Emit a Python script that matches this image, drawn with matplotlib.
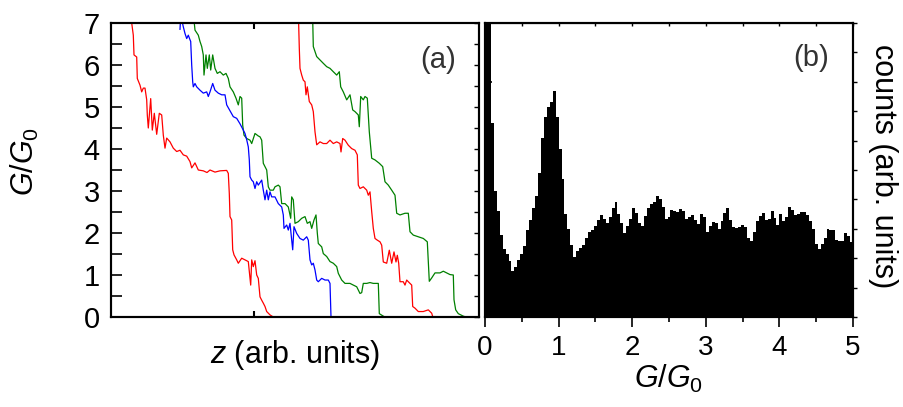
import numpy as np
import matplotlib
matplotlib.use("Agg")
import matplotlib.pyplot as plt

plt.rcParams['font.family'] = ['Liberation Sans', 'DejaVu Sans']
plt.rcParams['mathtext.fontset'] = 'custom'
plt.rcParams['mathtext.rm'] = 'Liberation Sans'
plt.rcParams['mathtext.it'] = 'Liberation Sans:italic'

# ---- (a) conductance traces, z in arbitrary units ----
red1_z = [18.5, 20.7, 22.3, 23, 25.7, 26.3, 29, 30.7, 32.3, 34, 35.7, 36.3, 37.3, 39.7, 41.3, 43.3,
          45.7, 48.3, 50.7, 52.3, 54, 55.7, 59, 62.3, 65.7, 69, 72.3, 75.7, 79, 80.7, 84, 87.3,
          92.3, 96, 99, 104, 109, 115.7, 117.3, 118.3, 119, 120.7, 121.7, 123, 125.7, 127.3,
          130.7, 134, 137.3, 139.7, 140.7, 142.3, 144, 145.7, 147.3, 149, 150.7, 152.3, 154,
          155.7, 159, 162.3, 368]
red1_g = [7.3, 7.0, 6.71, 6.24, 6.19, 5.68, 5.52, 5.36, 5.45, 5.45, 5.17, 4.81, 4.5, 5.2, 4.45, 4.85,
          4.35, 4.85, 4.81, 4.33, 4.02, 4.26, 4.17, 4.02, 3.94, 3.97, 3.86, 3.83, 3.7, 3.55, 3.67, 3.5,
          3.48, 3.44, 3.5, 3.45, 3.48, 3.49, 3.42, 2.94, 2.39, 2.31, 1.6, 1.48, 1.36, 1.28,
          1.4, 1.36, 1.32, 0.76, 1.36, 1.2, 1.34, 1.0, 0.92, 0.48, 0.4, 0.33, 0.25,
          0.13, 0.05, 0.0, 0.0]

blue_z = [69, 70, 71, 72.3, 74, 75.7, 77.3, 79, 79.7, 80.7, 81.7, 82.3, 84, 85.7, 89, 92.3, 95.7,
          97.3, 99, 101.7, 104, 107.3, 110.7, 114, 115.7, 119, 122.3, 125.7, 129, 132.3, 134,
          135.7, 137.3, 138.3, 139, 140.7, 142.3, 144, 145.7, 147.3, 150.7, 152.3, 154, 155.7,
          157.3, 159, 160.7, 164, 167.3, 170.7, 172.3, 173, 175.7, 177.3, 179, 180.7, 181.7, 183,
          185.7, 189, 192.3, 195.7, 197.3, 199, 200.7, 202.3, 204, 205.7, 207.3, 210.7, 214,
          217.3, 219, 220, 368]
blue_g = [6.85, 7.3, 7.05, 6.91, 6.75, 6.63, 6.71, 6.6, 6.56, 6.0, 5.6, 5.48, 5.56, 5.48, 5.4, 5.33, 5.36,
          5.25, 5.36, 5.56, 5.4, 5.33, 5.29, 5.29, 5.05, 4.91, 4.77, 4.73, 4.6, 4.45, 4.37,
          4.22, 4.05, 3.74, 3.34, 3.26, 3.22, 3.06, 3.22, 3.14, 3.26, 3.02, 2.79, 3.02,
          2.79, 2.98, 2.86, 2.86, 2.7, 2.62, 2.43, 2.11, 2.19, 2.07, 2.23, 1.83, 1.6, 2.15,
          1.99, 1.87, 1.83, 1.91, 1.83, 1.36, 1.24, 1.28, 1.12, 0.88, 0.84, 0.92, 0.88,
          0.88, 0.8, 0.0, 0.0]

green1_z = [82, 84, 87.3, 89, 90.7, 92.3, 93, 95, 96.3, 98.3, 99.7, 101.7, 104, 106.3, 109, 112.3,
            115, 117.3, 119, 122.3, 125, 127.3, 129, 130.7, 131.7, 133, 135.7, 139, 140.7, 144,
            147.3, 149, 150.7, 152.3, 154, 155.7, 157.3, 159, 162.3, 164, 167.3, 169, 170.7, 174,
            177.3, 179.7, 180.7, 182.3, 184, 187.3, 190.7, 194, 196.3, 199, 200.7, 203, 205,
            206.3, 207.3, 210.7, 212.3, 215.7, 219, 222.3, 225.7, 227.3, 230.7, 234, 239, 242.3,
            245.7, 249, 250.7, 252.3, 255.7, 259, 262.3, 267.3, 268.3, 272.3, 274, 368]
green1_g = [7.3, 6.83, 6.71, 6.56, 6.44, 6.24, 5.76, 6.24, 5.92, 6.24, 5.88, 6.24, 5.92, 5.8, 5.84, 5.76,
            5.8, 5.68, 5.48, 5.36, 5.21, 5.05, 5.25, 5.21, 4.57, 4.33, 4.25, 4.21, 4.13, 4.37,
            4.31, 4.29, 4.21, 3.66, 3.58, 3.5, 3.1, 3.02, 3.02, 3.1, 3.14, 3.1, 2.7, 2.7,
            2.62, 2.35, 2.86, 2.79, 2.23, 2.27, 2.35, 2.39, 2.23, 2.27, 2.11, 2.31, 2.43,
            2.0, 1.75, 1.67, 1.51, 1.44, 1.32, 1.28, 1.2, 1.04, 0.88, 0.8, 0.8, 0.76,
            0.72, 0.56, 0.58, 0.8, 0.8, 0.82, 0.8, 0.8, 0.08, 0.02, 0.0, 0.0]

red2_z = [187.3, 188.3, 189, 190.7, 192.3, 194, 195, 196.3, 198.3, 200.7, 202.3, 204, 205.7, 209,
          212.3, 215.7, 219, 222.3, 225.7, 229, 230, 231.7, 234, 237.3, 240.7, 244, 246.3, 247.3,
          249, 252.3, 255.7, 257.3, 259, 260.7, 262.3, 264, 266.3, 269, 270.7, 272.3, 275.7,
          278.3, 280.7, 283, 285, 286.3, 287.7, 289, 292.3, 294, 295.7, 297.3, 300.7, 301.7,
          304, 307.3, 312.3, 317.3, 320.7, 321.7, 368]
red2_g = [7.3, 6.4, 5.92, 5.76, 5.64, 5.6, 5.29, 5.48, 5.13, 5.05, 4.89, 4.41, 4.1, 4.17,
          4.13, 4.13, 4.21, 4.13, 4.17, 4.13, 3.93, 4.25, 4.21, 4.09, 4.01, 3.97, 3.86, 3.14,
          3.06, 3.1, 3.02, 2.9, 2.98, 2.51, 2.11, 1.87, 1.83, 1.79, 1.71, 1.31, 1.28,
          1.59, 1.28, 1.55, 1.31, 1.47, 1.28, 0.84, 0.84, 0.76, 0.88, 0.84, 0.76, 0.25,
          0.21, 0.13, 0.13, 0.17, 0.09, 0.01, 0.0]

green2_z = [201.5, 202.3, 205.7, 209, 212.3, 215.7, 219, 222.3, 225.7, 228.3, 229.7, 232.3, 235.7,
            239, 241.7, 244, 247.3, 248.3, 249.7, 252.3, 254, 256.3, 258.3, 260.7, 264, 268.3,
            271.7, 274, 277.3, 280.7, 284, 285.7, 289, 294, 297.3, 299, 302.3, 307.3, 312.3,
            316.3, 318.3, 320.7, 324, 329, 332.3, 339, 342.3, 343, 344.7, 347.3, 352.3, 355, 368]
green2_g = [7.3, 6.44, 6.2, 6.12, 6.04, 5.96, 5.92, 5.84, 5.76, 5.84, 5.48, 5.36, 5.17,
            5.29, 4.93, 4.89, 4.81, 4.53, 5.25, 5.17, 5.25, 5.21, 4.41, 3.78, 3.74, 3.66,
            3.58, 3.22, 3.14, 3.02, 2.9, 2.47, 2.43, 2.47, 2.47, 2.03, 1.95, 1.91, 1.87,
            1.79, 0.85, 0.93, 1.05, 1.05, 1.09, 1.01, 1.0, 0.41, 0.17, 0.08, 0.02, 0.0, 0.0]

# ---- (b) conductance histogram, bins of 0.04 G0 ----
bin_width = 0.04
hist_counts = [12, 10.5, 6.6, 4.3, 3.6, 2.8, 2.3, 2.15, 1.9, 1.55,
               1.7, 1.95, 2.15, 2.4, 2.95, 3.3, 3.7, 4.1, 4.9, 6.1,
               6.8, 7.15, 7.3, 7.7, 6.8, 5.7, 4.7, 3.5, 3.0, 2.45,
               2.05, 2.25, 2.35, 2.45, 2.7, 2.9, 2.95, 3.1, 3.3, 3.47,
               3.35, 3.2, 3.41, 3.7, 3.9, 3.5, 3.2, 2.85, 3.1, 3.35,
               3.7, 3.55, 3.2, 3.1, 3.45, 3.7, 3.85, 3.9, 4.1, 4.0,
               3.75, 3.35, 3.4, 3.64, 3.62, 3.58, 3.68, 3.6, 3.35, 3.4,
               3.47, 3.3, 3.15, 3.5, 3.4, 2.9, 3.1, 3.24, 3.2, 3.0,
               3.25, 3.55, 3.7, 3.3, 3.07, 3.02, 3.07, 3.12, 3.05, 2.7,
               2.6, 2.9, 3.25, 3.45, 3.53, 3.3, 3.32, 3.6, 3.36, 3.13,
               3.5, 3.28, 3.4, 3.75, 3.64, 3.48, 3.52, 3.56, 3.56, 3.48,
               3.25, 2.98, 2.5, 2.3, 2.5, 2.7, 3.0, 2.95, 2.96, 2.62,
               2.6, 2.6, 2.85, 2.75, 2.55]
hist_edges = np.arange(len(hist_counts) + 1) * bin_width

W, H = 904, 407
fig = plt.figure(figsize=(W / 100, H / 100), dpi=100)
ax_a = fig.add_axes([111 / W, (H - 317) / H, 368 / W, 294 / H])
ax_b = fig.add_axes([485 / W, (H - 317) / H, 368 / W, 294 / H])

# panel (a)
ax_a.plot(green1_z, green1_g, color='green', lw=0.9)
ax_a.plot(blue_z, blue_g, color='blue', lw=0.9)
ax_a.plot(green2_z, green2_g, color='green', lw=0.9)
ax_a.plot(red1_z, red1_g, color='red', lw=0.9)
ax_a.plot(red2_z, red2_g, color='red', lw=0.9)
ax_a.set_xlim(0, 368)
ax_a.set_ylim(0, 7)
ax_a.set_xticks([143])
ax_a.set_xticklabels([])
ax_a.set_yticks(np.arange(0, 8, 1))
ax_a.set_yticks(np.arange(0.5, 7, 1), minor=True)
ax_a.tick_params(axis='y', which='both', direction='in', length=8, width=1.2,
                 left=True, right=False, labelsize=21, pad=8)
ax_a.tick_params(axis='x', which='both', direction='in', length=4, width=1.5,
                 top=True, bottom=True)
for s in ax_a.spines.values():
    s.set_linewidth(1.5)
ax_a_r = ax_a.twinx()
ax_a_r.set_ylim(0, 7)
ax_a_r.set_yticks(np.arange(0, 7.5, 0.5))
ax_a_r.tick_params(axis='y', direction='in', length=3.5, width=1.0, labelright=False)
for s in ax_a_r.spines.values():
    s.set_linewidth(1.5)
ax_a.set_ylabel(r'$\mathit{G/G_0}$', fontsize=22)
ax_a.yaxis.set_label_coords(-0.19, 0.53)
ax_a.set_xlabel(r'$\mathit{z}$ (arb. units)', fontsize=22)
ax_a.xaxis.set_label_coords(0.5, -0.07)
ax_a.text(0.89, 0.875, '(a)', transform=ax_a.transAxes, fontsize=21,
          ha='center', va='center', color='#333333')

# panel (b)
ax_b.stairs(hist_counts, hist_edges, fill=True, color='black')
ax_b.set_xlim(0, 5)
ax_b.set_ylim(0, 10)
ax_b.set_xticks(np.arange(0, 6, 1))
ax_b.set_xticks(np.arange(0.5, 5, 1), minor=True)
ax_b.tick_params(axis='x', which='major', direction='out', length=7, width=1.2,
                 labelsize=20, pad=6)
ax_b.tick_params(axis='x', which='minor', direction='out', length=3.5, width=1.2)
ax_b.set_yticks(np.arange(0, 11, 2))
ax_b.set_yticks(np.arange(1, 10, 2), minor=True)
ax_b.tick_params(axis='y', which='major', direction='in', length=5, width=1.2, labelleft=False)
ax_b.tick_params(axis='y', which='minor', direction='in', length=2.5, width=1.0)
for s in ax_b.spines.values():
    s.set_linewidth(1.5)
ax_b_top = ax_b.secondary_xaxis('top')
ax_b_top.set_xticks(np.arange(0, 5.5, 0.5))
ax_b_top.tick_params(direction='in', length=2.5, width=1.0, labeltop=False)
ax_b_r = ax_b.twinx()
ax_b_r.set_ylim(0, 10)
ax_b_r.set_yticks(np.arange(0, 11, 1))
ax_b_r.tick_params(axis='y', direction='out', length=3, width=1.0, labelright=False)
for s in ax_b_r.spines.values():
    s.set_linewidth(1.5)
ax_b.set_xlabel(r'$\mathit{G/G_0}$', fontsize=22)
ax_b.xaxis.set_label_coords(0.5, -0.155)
ax_b.text(0.886, 0.88, '(b)', transform=ax_b.transAxes, fontsize=21,
          ha='center', va='center', color='#333333')
fig.text(883 / W, 1 - 166 / H, 'counts (arb. units)', rotation=270, fontsize=22,
         ha='center', va='center')

fig.savefig('out.png', dpi=100)
